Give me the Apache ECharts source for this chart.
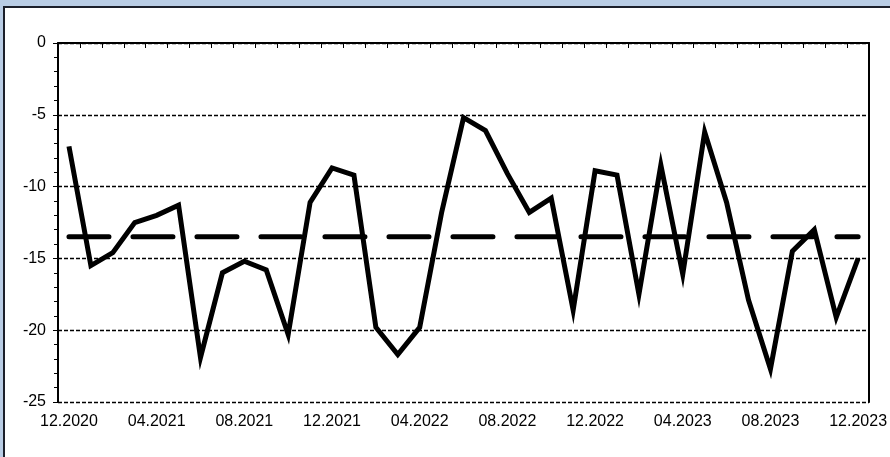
<!DOCTYPE html>
<html>
<head>
<meta charset="utf-8">
<script src="https://cdn.jsdelivr.net/npm/echarts@6/dist/echarts.min.js"></script>
<style>
  html, body { margin: 0; padding: 0; width: 890px; height: 457px; overflow: hidden; background: #b9cde5; }
  #frame { position: absolute; left: 3px; top: 6px; width: 1000px; height: 1000px; background: #fff; border: 2px solid #1b1f2a; }
  #main { position: absolute; left: 0; top: 0; width: 890px; height: 457px; }
</style>
</head>
<body>
<div id="frame"></div>
<div id="main"></div>
<script>
  // 月份
  const categories = [
    '12.2020', '01.2021', '02.2021', '03.2021', '04.2021', '05.2021', '06.2021',
    '07.2021', '08.2021', '09.2021', '10.2021', '11.2021', '12.2021',
    '01.2022', '02.2022', '03.2022', '04.2022', '05.2022', '06.2022',
    '07.2022', '08.2022', '09.2022', '10.2022', '11.2022', '12.2022',
    '01.2023', '02.2023', '03.2023', '04.2023', '05.2023', '06.2023',
    '07.2023', '08.2023', '09.2023', '10.2023', '11.2023', '12.2023',
  ]

  // 数值
  const values = [
    -7.2, -15.5, -14.6, -12.5, -12.0, -11.3, -21.9,
    -16.0, -15.2, -15.8, -20.3, -11.1, -8.7,
    -9.2, -19.8, -21.7, -19.8, -11.8, -5.2,
    -6.1, -9.1, -11.8, -10.8, -18.6, -8.9,
    -9.2, -17.5, -8.5, -16.1, -6.2, -11.1,
    -17.9, -22.7, -14.5, -13.0, -19.1, -15.0,
  ]

  // 平均线
  const meanLevel = -13.5
  const meanLine = [
    [categories[0], meanLevel],
    [categories[categories.length - 1], meanLevel],
  ]

  const yTicks = { min: -25, max: 0, step: 5 }

  const font = { fontFamily: 'Liberation Sans, Arial, sans-serif', fontSize: 16, color: '#000' }

  let chart = echarts.init(document.getElementById('main'), null, { renderer: 'canvas' })

  chart.setOption({
    animation: false,
    backgroundColor: 'transparent',
    grid: { left: 58, right: 17, top: 43, bottom: 55 },
    xAxis: {
      type: 'category',
      data: categories,
      boundaryGap: true,
      axisLine: { lineStyle: { color: '#000', width: 2 } },
      axisTick: { show: true, interval: 0, length: 5, lineStyle: { color: '#000', width: 1 } },
      axisLabel: Object.assign({ interval: 3, margin: 12 }, font),
      splitLine: { show: false },
    },
    yAxis: [
      {
        type: 'value',
        min: yTicks.min,
        max: yTicks.max,
        interval: yTicks.step,
        axisLine: { show: true, lineStyle: { color: '#000', width: 2 } },
        axisTick: { show: true, length: 5, lineStyle: { color: '#000', width: 1 } },
        minorTick: { show: true, splitNumber: 5, length: 4, lineStyle: { color: '#000', width: 1 } },
        axisLabel: Object.assign({ margin: 12 }, font),
        splitLine: { show: true, lineStyle: { color: '#000', width: 1.4, type: [4, 2] } },
      },
      {
        // 右侧边框
        type: 'value',
        position: 'right',
        min: yTicks.min,
        max: yTicks.max,
        interval: yTicks.step,
        axisLine: { show: true, lineStyle: { color: '#000', width: 2 } },
        axisTick: { show: false },
        axisLabel: { show: false },
        splitLine: { show: false },
      },
    ],
    series: [
      {
        type: 'line',
        data: values,
        symbol: 'none',
        lineStyle: { color: '#000', width: 5, join: 'miter' },
        z: 3,
      },
      {
        type: 'line',
        data: meanLine,
        symbol: 'none',
        lineStyle: { color: '#000', width: 5, type: [40, 24], cap: 'round' },
        z: 2,
      },
    ],
  })
</script>
</body>
</html>
